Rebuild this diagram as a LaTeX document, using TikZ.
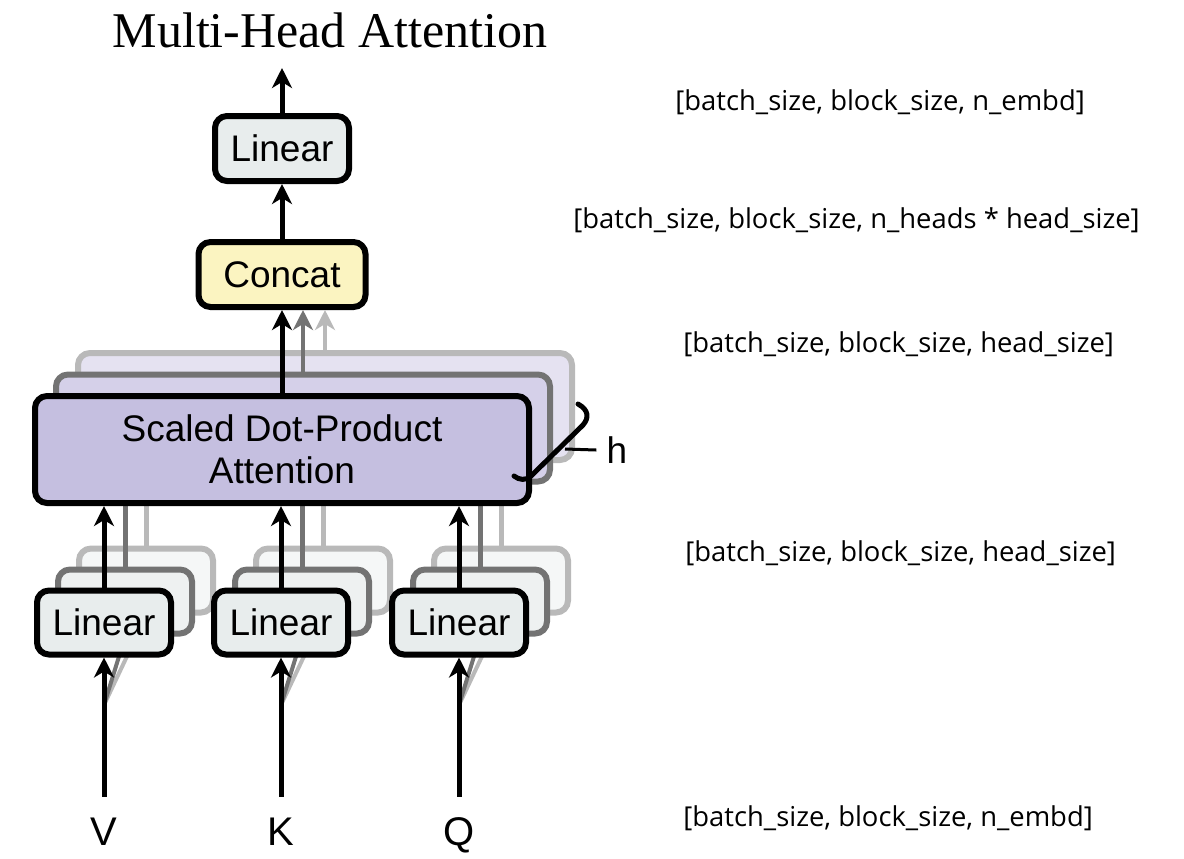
\documentclass[tikz,border=0pt]{standalone}
\usepackage{fontspec}
\usepackage{xcolor}
\usetikzlibrary{arrows.meta}

\newfontfamily\boxfont{Liberation Sans}
\newfontfamily\titlefont{Liberation Serif}
\newfontfamily\dimfont{Open Sans}

\definecolor{linfill}{RGB}{232,237,237}
\definecolor{linfilltwo}{RGB}{238,241,241}
\definecolor{linfillthree}{RGB}{245,247,247}
\definecolor{catfill}{RGB}{251,244,193}
\definecolor{attfill}{RGB}{197,191,224}
\definecolor{attfilltwo}{RGB}{213,208,233}
\definecolor{attfillthree}{RGB}{229,226,241}
\definecolor{midgray}{RGB}{115,115,115}
\definecolor{lightgray}{RGB}{185,185,185}

\begin{document}
\begin{tikzpicture}[x=0.5pt, y=-0.5pt,
  box/.style={draw=black, line width=3pt, rounded corners=6pt, inner sep=0pt,
    align=center, font=\boxfont\fontsize{18.5pt}{21pt}\selectfont},
  backtwo/.style={box, draw=midgray},
  backthree/.style={box, draw=lightgray},
  linsize/.style={minimum width=67pt, minimum height=32pt},
  attsize/.style={minimum width=247pt, minimum height=53.5pt},
  flow/.style={line width=2.5pt, -{Stealth[length=10pt, width=10pt, inset=3pt]}},
  inlabel/.style={font=\boxfont\fontsize{20pt}{24pt}\selectfont,
    text height=15pt, text depth=0pt, inner sep=9pt},
  dim/.style={anchor=base west, inner sep=0pt,
    font=\dimfont\fontsize{13.7pt}{16pt}\selectfont}]
  \useasboundingbox (0,0) rectangle (1184,858);

  % title
  \node[anchor=base, font=\titlefont\fontsize{25pt}{30pt}\selectfont] (title) at (330,47) {Multi-Head Attention};

  % inputs and the stacked linear projections
  \foreach \n/\x in {V/104, K/281, Q/459} {
    \node[inlabel] (in\n) at (\x,830) {\n};
    \coordinate (fork\n) at (\x,705);
    \draw[line width=2pt, lightgray] (fork\n) -- (\x+42,616);
    \draw[line width=2pt, midgray] (fork\n) -- (\x+21,637);
    \node[backthree, linsize, fill=linfillthree] (lin\n3) at (\x+42,580.5) {};
    \draw[line width=2.5pt, lightgray] (lin\n3.north) -- (lin\n3.north |- 0,506);
    \node[backtwo, linsize, fill=linfilltwo] (lin\n2) at (\x+21,601.5) {};
    \draw[line width=2.5pt, midgray] (lin\n2.north) -- (lin\n2.north |- 0,506);
    \node[box, linsize, fill=linfill] (lin\n) at (\x,622.5) {Linear};
    \draw[flow] (in\n.north) -- (lin\n.south);
  }

  % stacked attention heads
  \node[backthree, attsize, fill=attfillthree] (att3) at (325,406.5) {};
  \node[backtwo, attsize, fill=attfilltwo] (att2) at (303,428) {};
  \node[box, attsize, fill=attfill] (att) at (282,449.5) {Scaled Dot-Product\\Attention};
  \foreach \n in {V, K, Q}
    \draw[flow] (lin\n.north) -- (lin\n.north |- att.south);

  % h heads
  \draw[line width=2.5pt, line cap=round] (578,404) .. controls (589,410) and (589,418) .. (583,425)
    -- (531,476) .. controls (526,481) and (519,480) .. (514,476);
  \coordinate (hook) at (565,449);
  \node[font=\boxfont\fontsize{18.5pt}{21pt}\selectfont, inner sep=5pt] (hlabel) at (617,450) {h};
  \draw[line width=1.5pt] (hook) -- (hlabel.west);

  % concat and output
  \node[box, fill=catfill, minimum width=83.5pt, minimum height=32.5pt] (concat) at (282,274.5) {Concat};
  \draw[flow, lightgray, line width=2pt] (att3.north) -- (att3.north |- concat.south);
  \draw[flow, midgray, line width=2pt] (att2.north) -- (att2.north |- concat.south);
  \draw[flow] (att.north) -- (concat.south);
  \node[box, linsize, fill=linfill, minimum height=32.5pt] (lintop) at (282,148.5) {Linear};
  \draw[flow] (concat.north) -- (lintop.south);
  \coordinate (out) at (282,68);
  \draw[flow] (lintop.north) -- (out);

  % tensor shapes
  \node[dim] (shapeout) at (675,110) {[batch\_size, block\_size, n\_embd]};
  \node[dim] (shapecat) at (573,228) {[batch\_size, block\_size, n\_heads * head\_size]};
  \node[dim] (shapehead) at (683,352) {[batch\_size, block\_size, head\_size]};
  \node[dim] (shapeproj) at (685,561) {[batch\_size, block\_size, head\_size]};
  \node[dim] (shapein) at (683,826) {[batch\_size, block\_size, n\_embd]};
\end{tikzpicture}
\end{document}
